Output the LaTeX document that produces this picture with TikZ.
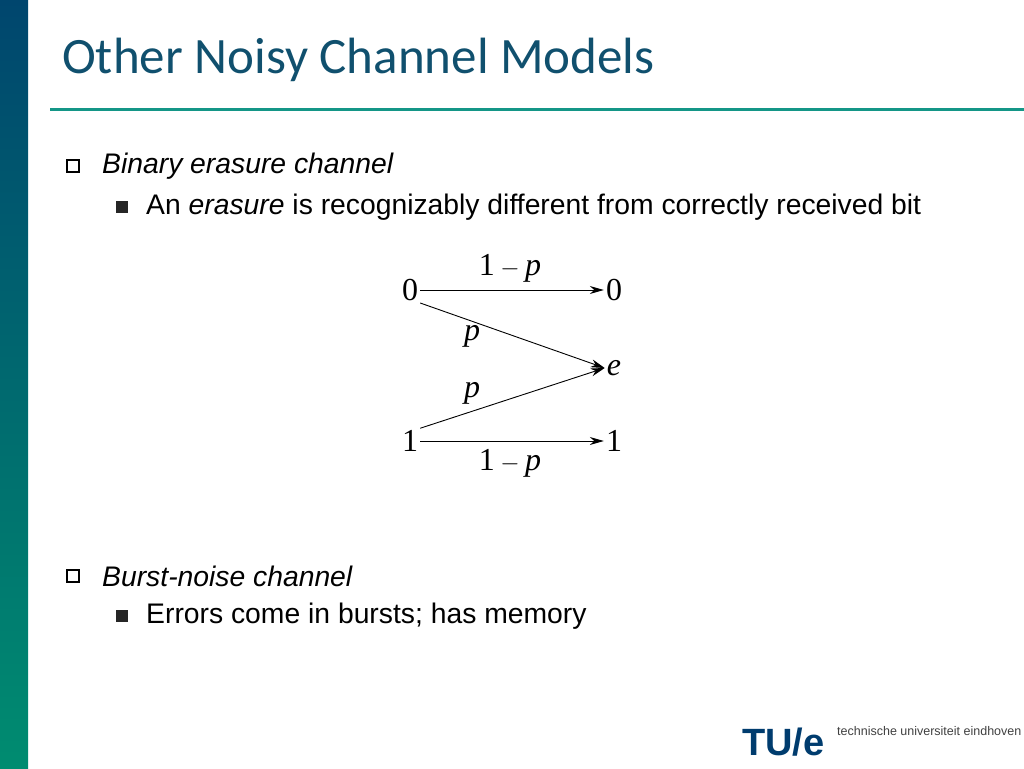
\documentclass[tikz,border=0pt]{standalone}
\usepackage{fontspec}
\setmainfont{Liberation Sans}
\newfontfamily\titlefont{Carlito}
\newfontfamily\mathserif{Liberation Serif}
\usetikzlibrary{arrows.meta}
\definecolor{bartop}{RGB}{0,70,110}
\definecolor{barbot}{RGB}{0,140,112}
\definecolor{titlec}{RGB}{16,80,110}
\definecolor{linec}{RGB}{20,150,135}
\definecolor{tuec}{RGB}{0,60,110}
\begin{document}
\begin{tikzpicture}[x=1pt,y=-1pt,
  lab/.style={font=\mathserif\fontsize{32}{32}\selectfont},
  arr/.style={-{Stealth[length=14pt,width=8pt]},line width=0.9pt},
  btxt/.style={anchor=west,font=\fontsize{28.3}{28.3}\selectfont,inner sep=0},
  hsq/.style={draw=black,line width=2.2pt,minimum size=12pt,inner sep=0},
  fsq/.style={fill=black!85,minimum size=12pt,inner sep=0}]
\useasboundingbox (0,0) rectangle (1024,768);
\shade[top color=bartop,bottom color=barbot] (0,0) rectangle (28,768);
\node[anchor=west,inner sep=0,text=titlec,font=\titlefont\fontsize{51}{51}\selectfont] (title) at (62,60) {Other Noisy Channel Models};
\draw[line width=3pt,linec] (50,109) -- (1024,109);
\node[hsq] (b1) at (73,166) {};
\node[btxt] (t1) at (102,166) {\itshape Binary erasure channel};
\node[fsq] (s1) at (122,207) {};
\node[btxt] (t2) at (146,207) {An \textit{erasure} is recognizably different from correctly received bit};
\node[hsq] (b2) at (73,576) {};
\node[btxt] (t3) at (102,576) {\itshape Burst-noise channel};
\node[fsq] (s2) at (122,616) {};
\node[btxt] (t4) at (146,616) {Errors come in bursts; has memory};
% channel
\node[lab,inner sep=2pt] (x0) at (410,290) {0};
\node[lab,inner sep=2pt] (y0) at (614,290) {0};
\node[lab,inner sep=2pt] (ye) at (614,368) {\itshape e};
\node[lab,inner sep=2pt] (x1) at (410,441) {1};
\node[lab,inner sep=2pt] (y1) at (614,441) {1};
\draw[arr] (x0.east) -- (y0.west);
\draw[arr] (x0.south east) -- (ye.west);
\draw[arr] (x1.north east) -- (ye.west);
\draw[arr] (x1.east) -- (y1.west);
\node[lab] (l1) at (510,268) {1\,$-$\,\textit{p}};
\node[lab] (l2) at (472,336) {\textit{p}};
\node[lab] (l3) at (472,393) {\textit{p}};
\node[lab] (l4) at (510,463) {1\,$-$\,\textit{p}};
% logo
\node[anchor=west,inner sep=0,text=tuec,font=\bfseries\fontsize{38}{38}\selectfont] (tue) at (742,742) {TU/e};
\node[anchor=west,inner sep=0,text=black!75,font=\fontsize{12.5}{12.5}\selectfont] (tuet) at (837,731) {technische universiteit eindhoven};
\end{tikzpicture}
\end{document}
